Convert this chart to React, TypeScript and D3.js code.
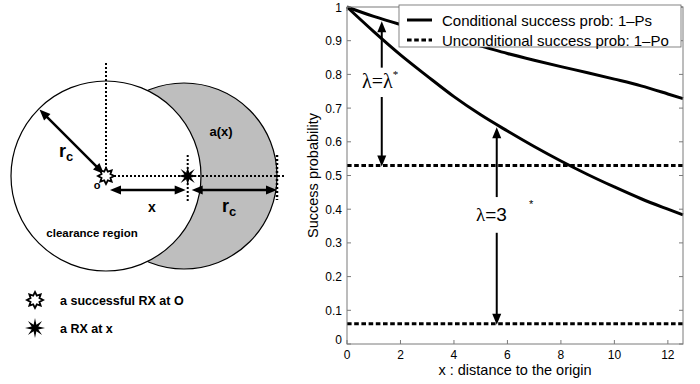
import React from "react";
import * as d3 from "d3";

const distances = [0, 1, 2, 3, 4, 5, 6, 7, 8, 9, 10, 11, 12, 12.566];
// conditional success prob 1-Ps, lambda = lambda*
const condLow = [1, 0.972, 0.948, 0.926, 0.905, 0.884, 0.862, 0.842, 0.823, 0.805, 0.786, 0.766, 0.742, 0.728];
// conditional success prob 1-Ps, lambda = 3 lambda*
const condHigh = [1, 0.927, 0.858, 0.795, 0.734, 0.68, 0.632, 0.586, 0.543, 0.503, 0.466, 0.431, 0.4, 0.383];
// unconditional success prob 1-Po for the two densities
const uncond = [0.53, 0.06];

const xTicks = [0, 2, 4, 6, 8, 10, 12];
const yTicks = [0, 0.1, 0.2, 0.3, 0.4, 0.5, 0.6, 0.7, 0.8, 0.9, 1];
const legendLabels = ["Conditional success prob: 1\u2013Ps", "Unconditional success prob: 1\u2013Po"];

// diagram, in units of r_c
const rc = 1;
const rxDist = 0.86;

const SANS = "'Liberation Sans', Arial, Helvetica, sans-serif";
const SERIF = "'Liberation Serif', 'Times New Roman', serif";

function starPath(outer: number, inner: number, n = 8) {
  const pts: [number, number][] = [];
  for (let i = 0; i < n * 2; i++) {
    pts.push([(Math.PI * i) / n, i % 2 === 0 ? outer : inner]);
  }
  return d3.lineRadial().curve(d3.curveLinearClosed)(pts) as string;
}

function Arrow({ x1, y1, x2, y2, both = false, w = 2 }: any) {
  const ang = Math.atan2(y2 - y1, x2 - x1);
  const L = 11, H = 4.5;
  const head = (x: number, y: number, a: number) => {
    const bx = x - L * Math.cos(a), by = y - L * Math.sin(a);
    const px = -Math.sin(a) * H, py = Math.cos(a) * H;
    return `M${x},${y}L${bx + px},${by + py}L${bx - px},${by - py}Z`;
  };
  const sx = both ? x1 + (L - 2) * Math.cos(ang) : x1;
  const sy = both ? y1 + (L - 2) * Math.sin(ang) : y1;
  const ex = x2 - (L - 2) * Math.cos(ang);
  const ey = y2 - (L - 2) * Math.sin(ang);
  return (
    <g>
      <line x1={sx} y1={sy} x2={ex} y2={ey} stroke="#000" strokeWidth={w} />
      <path d={head(x2, y2, ang)} fill="#000" />
      {both && <path d={head(x1, y1, ang + Math.PI)} fill="#000" />}
    </g>
  );
}

function Diagram() {
  const ox = 106, oy = 176;
  const u = d3.scaleLinear().domain([0, 1]).range([0, 95]);
  const hollowStar = starPath(8, 4.8);
  const solidStar = starPath(10, 3.6);
  const rxX = ox + u(rxDist);
  const edgeX = ox + u(0.821 + 0.979 * rc);
  const dot = { stroke: "#000", strokeWidth: 2, strokeDasharray: "2,2" };
  return (
    <g fontFamily={SANS} fontWeight="bold">
      <circle cx={ox + u(0.821)} cy={oy} r={u(0.979 * rc)} fill="#bebebe" stroke="#000" strokeWidth={1.2} />
      <circle cx={ox} cy={oy} r={u(rc)} fill="#fff" stroke="#000" strokeWidth={1.2} />
      <line x1={ox} y1={oy - u(1.19)} x2={ox} y2={oy} {...dot} />
      <line x1={ox} y1={oy} x2={edgeX + 8} y2={oy} {...dot} />
      <line x1={rxX} y1={oy - 21} x2={rxX} y2={oy + 27} {...dot} />
      <line x1={edgeX} y1={oy - 21} x2={edgeX} y2={oy + 24} {...dot} strokeWidth={2.5} />
      <Arrow x1={ox - u(0.7)} y1={oy - u(0.7)} x2={ox - 2} y2={oy - 2} both w={2.5} />
      <Arrow x1={ox + 4} y1={oy + 14} x2={rxX - 2} y2={oy + 14} both w={2.5} />
      <Arrow x1={rxX + 4} y1={oy + 14} x2={edgeX} y2={oy + 14} both w={2.5} />
      <path d={hollowStar} transform={`translate(${ox},${oy})`} fill="#fff" stroke="#000" strokeWidth={1.8} />
      <path d={solidStar} transform={`translate(${rxX},${oy})`} fill="#000" />
      <text x={59} y={157} fontSize={18}>r<tspan fontSize={13} dy={4}>c</tspan></text>
      <text x={222} y={212} fontSize={18}>r<tspan fontSize={13} dy={4}>c</tspan></text>
      <text x={152} y={212} fontSize={14} textAnchor="middle">x</text>
      <text x={221} y={136} fontSize={13} textAnchor="middle">a(x)</text>
      <text x={92} y={237} fontSize={11.5} textAnchor="middle">clearance region</text>
      <text x={97} y={189} fontSize={11} textAnchor="middle">o</text>
      <path d={hollowStar} transform="translate(35,300)" fill="#fff" stroke="#000" strokeWidth={1.8} />
      <path d={solidStar} transform="translate(35,328)" fill="#000" />
      <text x={60} y={305} fontSize={12.5}>a successful RX at O</text>
      <text x={60} y={333} fontSize={12.5}>a RX at x</text>
    </g>
  );
}

function Plot() {
  const x = d3.scaleLinear().domain([0, 12.566]).range([347, 683]);
  const y = d3.scaleLinear().domain([0, 1]).range([344, 7]);
  const line = d3
    .line<[number, number]>()
    .x((d) => x(d[0]))
    .y((d) => y(d[1]))
    .curve(d3.curveMonotoneX);
  const frame = "#7a7a7a";
  const dash = "4.6,2.6";
  return (
    <g fontFamily={SANS}>
      {[condLow, condHigh].map((s, i) => (
        <path key={i} d={line(distances.map((d, j) => [d, s[j]]) as any) as string} fill="none" stroke="#000" strokeWidth={3} />
      ))}
      {uncond.map((v, i) => (
        <line key={i} x1={x(0)} x2={x(12.566)} y1={y(v)} y2={y(v)} stroke="#000" strokeWidth={3} strokeDasharray={dash} />
      ))}
      <rect x={x(0)} y={y(1)} width={x(12.566) - x(0)} height={y(0) - y(1)} fill="none" stroke={frame} strokeWidth={1} />
      {xTicks.map((t) => (
        <g key={t}>
          <line x1={x(t)} x2={x(t)} y1={y(0)} y2={y(0) - 4} stroke={frame} />
          <line x1={x(t)} x2={x(t)} y1={y(1)} y2={y(1) + 4} stroke={frame} />
          <text x={x(t)} y={y(0) + 15} fontSize={12} textAnchor="middle">{t}</text>
        </g>
      ))}
      {yTicks.map((t) => (
        <g key={t}>
          <line x1={x(0)} x2={x(0) + 4} y1={y(t)} y2={y(t)} stroke={frame} />
          <line x1={x(12.566)} x2={x(12.566) - 4} y1={y(t)} y2={y(t)} stroke={frame} />
          <text x={x(0) - 5} y={y(t) + (t === 0 ? 0 : 4.5)} fontSize={12} textAnchor="end">
            {t === 0 || t === 1 ? String(t) : t.toFixed(1)}
          </text>
        </g>
      ))}
      <text x={x(6.283)} y={375} fontSize={14.5} textAnchor="middle">x : distance to the origin</text>
      <text transform={`translate(318,${y(0.5)}) rotate(-90)`} fontSize={14.5} textAnchor="middle">Success probability</text>

      <g>
        <rect x={399} y={5} width={282} height={42} fill="#fff" stroke="#666" strokeWidth={0.8} />
        <line x1={407} x2={432} y1={20} y2={20} stroke="#000" strokeWidth={3} />
        <line x1={407} x2={432} y1={40} y2={40} stroke="#000" strokeWidth={3} strokeDasharray={dash} />
        {legendLabels.map((l, i) => (
          <text key={i} x={442} y={25.5 + i * 20} fontSize={15}>{l}</text>
        ))}
      </g>

      <Arrow x1={x(1.3)} y1={y(0.82)} x2={x(1.3)} y2={y(0.958)} />
      <Arrow x1={x(1.3)} y1={y(0.733)} x2={x(1.3)} y2={y(uncond[0]) + 1} />
      <text x={362} y={88} fontSize={20} fontFamily={SERIF}>
        {"\u03bb=\u03bb"}<tspan fontSize={11} dy={-10}>*</tspan>
      </text>

      <Arrow x1={x(5.6)} y1={y(0.436)} x2={x(5.6)} y2={y(0.643)} />
      <Arrow x1={x(5.6)} y1={y(0.33)} x2={x(5.6)} y2={y(uncond[1]) + 1} />
      <text x={476} y={221} fontSize={19}>
        <tspan fontFamily={SERIF}>{"\u03bb"}</tspan>=3
      </text>
      <text x={529} y={208} fontSize={11}>*</text>
    </g>
  );
}

export default function App() {
  return (
    <svg width={700} height={384} style={{ position: "absolute", left: 0, top: 0, background: "#fff" }}>
      <rect width={700} height={384} fill="#fff" />
      <Diagram />
      <Plot />
    </svg>
  );
}
